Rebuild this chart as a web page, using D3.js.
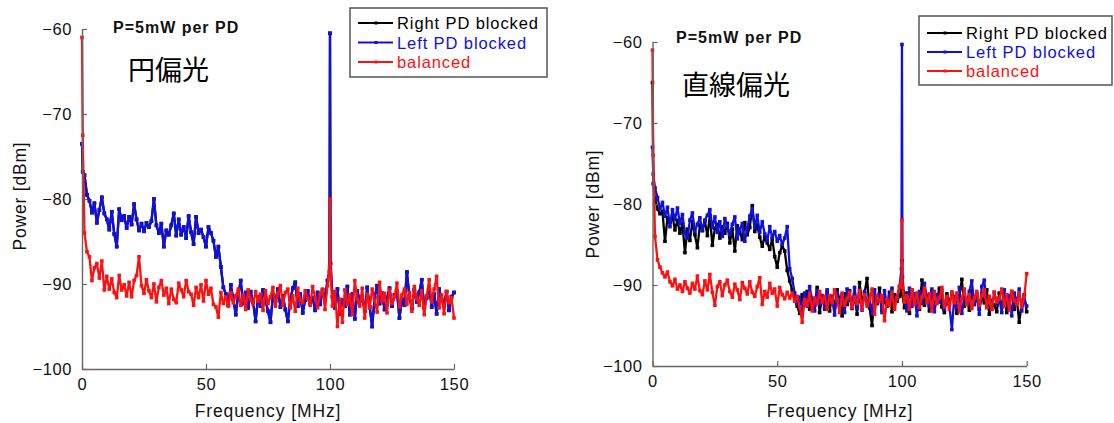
<!DOCTYPE html>
<html>
<head>
<meta charset="utf-8">
<script src="https://cdn.jsdelivr.net/npm/d3@7"></script>
<style>
  body { margin: 0; background: #fff; }
  text { font-family: "Liberation Sans", Arial, sans-serif; }
</style>
</head>
<body>
<div id="chart"></div>
<script>
// frequency grid [MHz]: fine points at DC and around the 100 MHz line
const freqMHz = [0, 0.3, ...d3.range(1, 100), 99.8, 100, 100.2, ...d3.range(101, 151)];

const seriesNames = ["Right PD blocked", "Left PD blocked", "balanced"];
const yTicks = [-100, -90, -80, -70, -60];
const xTicks = [0, 50, 100, 150];

// ---- circular polarisation (left panel), values in dBm ----
const circLeftBlocked = [
  -73.5, -76.8,
  -77.2, -79.5, -80.2, -81.6, -80.5, -82.8, -81.3, -79.8, -81.7, -82.4,
  -83.6, -81.5, -84.1, -85.6, -81.2, -82.5, -82.0, -83.4, -82.1, -83.0,
  -80.6, -82.4, -83.7, -82.9, -83.8, -82.8, -83.3, -82.6, -80.0, -83.1,
  -84.0, -82.9, -85.6, -83.7, -84.2, -83.1, -81.7, -84.3, -82.4, -84.2,
  -83.3, -84.6, -82.0, -83.9, -85.3, -82.1, -84.0, -83.6, -84.5, -85.6,
  -83.3, -84.0, -84.9, -86.8, -85.6, -88.0, -90.4, -91.2, -92.5, -90.1,
  -91.8, -93.6, -91.2, -89.6, -92.3, -91.0, -92.8, -90.9, -92.1, -94.4,
  -91.5, -92.6, -90.7, -91.9, -93.2, -94.5, -91.3, -92.0, -90.6, -92.7,
  -91.4, -93.0, -94.4, -91.8, -90.5, -89.8, -92.6, -91.2, -93.4, -91.9,
  -90.8, -92.3, -91.6, -93.1, -91.0, -92.4, -90.7, -91.8, -89.6,
  -88.5, -60.5, -87.6,
  -91.5, -92.8, -90.6, -93.5, -91.9, -92.6, -90.3, -93.6, -91.2, -94.1,
  -90.8, -92.0, -91.5, -93.2, -90.4, -92.7, -95.0, -91.6, -90.2, -92.3,
  -91.1, -93.0, -91.7, -90.5, -92.6, -91.3, -90.9, -94.0, -91.8, -92.5,
  -88.6, -91.4, -92.9, -90.7, -92.1, -91.0, -89.5, -92.8, -91.6, -90.4,
  -92.7, -91.2, -93.5, -90.6, -91.8, -92.4, -90.9, -93.1, -91.5, -91.0
];
// the black trace is completely covered by the blue one in this panel
const circRightBlocked = circLeftBlocked;
const circBalanced = [
  -61.0, -72.5,
  -84.0, -86.2, -86.8, -89.6, -88.1, -87.6, -89.3, -87.3, -90.7, -89.1,
  -90.6, -89.4, -91.0, -91.6, -89.0, -90.7, -90.1, -91.4, -89.8, -91.5,
  -89.6, -89.0, -86.8, -90.2, -91.1, -89.5, -90.8, -91.6, -90.0, -92.1,
  -90.4, -89.6, -91.3, -90.5, -92.3, -90.6, -91.8, -92.2, -89.9, -90.7,
  -91.5, -89.6, -90.9, -91.2, -92.5, -90.4, -91.6, -90.1, -92.0, -89.6,
  -91.2, -90.5, -92.4, -92.7, -93.9, -91.0, -92.3, -91.5, -92.6, -91.0,
  -92.2, -91.4, -90.6, -92.5, -91.3, -93.0, -90.7, -91.8, -92.4, -90.9,
  -92.0, -91.2, -93.1, -90.8, -92.3, -91.5, -90.4, -92.6, -91.1, -90.2,
  -92.5, -91.0, -90.6, -92.8, -91.4, -93.2, -90.5, -91.9, -92.2, -90.8,
  -91.7, -92.5, -90.3, -91.6, -92.8, -91.2, -90.6, -93.0, -90.2,
  -88.0, -80.0, -88.5,
  -92.6, -90.9, -95.0, -91.8, -94.5, -90.7, -92.4, -91.3, -93.6, -89.6,
  -91.8, -92.6, -90.5, -94.0, -91.2, -92.8, -90.6, -91.9, -93.3, -89.8,
  -92.0, -91.1, -93.4, -90.7, -92.3, -91.5, -89.9, -92.7, -91.3, -90.6,
  -92.4, -91.0, -93.2, -90.3, -91.7, -92.5, -90.8, -93.6, -91.4, -89.5,
  -92.1, -90.6, -89.1, -92.8, -91.3, -93.5, -90.9, -92.2, -91.6, -94.0
];

// ---- linear polarisation (right panel) ----
const linRightBlocked = [
  -65.0, -77.5,
  -79.4, -80.6, -81.2, -80.9, -84.6, -81.7, -82.3, -81.5, -83.2, -82.0,
  -83.6, -82.4, -86.0, -83.1, -84.5, -82.2, -83.8, -85.4, -82.6, -83.3,
  -82.1, -83.9, -81.4, -85.1, -83.0, -82.5, -84.2, -82.8, -83.6, -82.4,
  -84.8, -83.1, -85.8, -82.7, -83.5, -84.4, -82.3, -83.8, -82.9, -80.2,
  -83.4, -82.6, -84.1, -85.2, -84.0, -84.8, -85.6, -84.3, -86.5, -87.8,
  -86.0, -85.2, -85.8, -88.2, -89.5, -90.6, -91.8, -92.6, -93.5, -91.2,
  -92.4, -90.8, -93.0, -91.7, -92.5, -90.3, -93.4, -91.6, -92.1, -90.9,
  -93.2, -91.4, -92.7, -90.6, -91.9, -93.8, -91.1, -92.4, -90.7, -92.9,
  -91.3, -93.6, -89.7, -92.2, -91.0, -89.2, -92.8, -95.0, -91.5, -92.3,
  -90.4, -93.1, -91.8, -92.6, -90.9, -93.3, -91.2, -92.0, -91.4,
  -90.5, -87.0, -91.2,
  -92.8, -91.0, -93.5, -90.6, -92.2, -91.7, -93.0, -89.4, -92.5, -91.3,
  -93.2, -90.8, -92.6, -91.9, -90.4, -92.7, -93.4, -91.1, -92.3, -90.9,
  -92.0, -93.5, -91.4, -89.3, -92.6, -91.8, -93.1, -90.7, -92.4, -91.5,
  -93.0, -91.3, -92.2, -90.6, -93.6, -91.9, -92.5, -93.3, -91.0, -92.7,
  -91.6, -93.4, -92.1, -90.8, -93.0, -91.7, -94.6, -92.3, -91.2, -93.3
];
const linLeftBlocked = [
  -73.0, -76.3,
  -78.0, -79.2, -80.6, -79.8, -81.5, -80.4, -82.8, -80.7, -81.9, -80.5,
  -82.4, -81.3, -83.6, -84.2, -82.0, -81.1, -83.4, -82.5, -81.7, -83.2,
  -82.0, -81.4, -80.7, -82.9, -81.6, -83.5, -82.2, -84.0, -81.8, -82.7,
  -83.8, -82.5, -81.6, -84.3, -83.1, -82.4, -84.6, -83.0, -81.5, -80.6,
  -82.9, -81.4, -83.5, -82.2, -83.7, -84.5, -82.8, -84.1, -83.4, -84.6,
  -83.9, -85.0, -84.2, -82.8, -88.0, -89.2, -91.0, -92.3, -91.5, -93.4,
  -91.0, -92.6, -90.2, -91.8, -93.2, -90.7, -92.4, -91.3, -93.0, -90.6,
  -92.2, -91.5, -93.7, -90.9, -92.0, -91.2, -93.4, -90.5, -91.8, -92.6,
  -90.3, -92.9, -91.4, -93.1, -90.8, -92.3, -91.6, -93.5, -90.6, -92.1,
  -91.2, -93.4, -90.7, -92.5, -91.3, -90.4, -92.8, -91.5, -90.2,
  -88.0, -60.3, -89.0,
  -91.7, -93.2, -90.4, -92.6, -91.1, -93.8, -90.8, -92.3, -89.8, -91.6,
  -92.7, -90.5, -93.3, -91.2, -92.1, -90.7, -93.0, -91.8, -92.5, -95.5,
  -91.4, -92.8, -90.3, -93.5, -91.6, -92.2, -90.8, -89.5, -92.4, -91.1,
  -93.6, -90.2, -89.4, -92.7, -91.5, -93.0, -90.9, -92.3, -91.6, -93.4,
  -90.6, -92.5, -91.3, -93.8, -91.0, -92.2, -90.5, -93.2, -91.8, -92.6
];
const linBalanced = [
  -61.0, -74.0,
  -84.0, -86.9, -87.8, -88.5, -89.0, -88.4, -89.6, -90.1, -89.3, -90.5,
  -90.0, -90.8, -89.6, -90.4, -91.0, -89.8, -90.5, -88.9, -90.7, -91.2,
  -89.5, -90.6, -88.7, -90.9, -92.5, -90.2, -89.6, -91.3, -90.0, -89.4,
  -90.8, -91.5, -89.9, -90.6, -91.8, -89.7, -90.4, -91.1, -89.6, -90.9,
  -91.4, -90.2, -89.1, -92.4, -90.8, -91.5, -89.8, -91.0, -90.5, -92.6,
  -90.3, -91.2, -91.7, -90.9, -91.6, -91.0, -92.0, -91.4, -92.7, -94.6,
  -91.8, -92.5, -91.0, -93.2, -91.6, -92.3, -90.8, -92.1, -91.4, -93.0,
  -91.3, -92.2, -90.6, -91.8, -93.4, -91.0, -92.5, -91.7, -90.9, -92.8,
  -91.5, -92.3, -90.7, -93.0, -91.2, -92.6, -91.8, -90.5, -93.6, -91.4,
  -92.0, -91.3, -94.4, -91.8, -92.5, -90.9, -93.0, -91.6, -90.2,
  -89.5, -82.0, -90.3,
  -92.1, -91.3, -93.0, -90.6, -92.4, -91.0, -92.8, -91.5, -90.4, -92.2,
  -91.1, -93.2, -90.8, -92.3, -91.6, -90.3, -92.7, -91.4, -93.0, -90.9,
  -92.2, -91.0, -93.3, -91.7, -90.5, -92.4, -91.2, -92.9, -91.6, -90.8,
  -92.5, -91.3, -90.6, -92.8, -91.4, -93.0, -90.9, -92.1, -91.7, -90.5,
  -92.6, -91.2, -93.1, -90.8, -91.9, -92.4, -91.0, -92.7, -91.5, -88.6
];

const colors = ["#000000", "#1010dd", "#ff1010"];

const svg = d3.select('#chart').append('svg')
  .attr('width', 1114)
  .attr('height', 423)
  .style('background', '#fff');

const panels = [
  { x0: 82, x1: 454, yTop: 29, yBot: 369, note: "円偏光", noteX: 128, noteY: 80,
    titleX: 113, titleY: 33, legX: 350, legY: 8, legW: 197, legH: 69, legRow0: 23, legRowStep: 19.5,
    ylabX: 20, ylabY: 196, xlabX: 268, xlabY: 417,
    series: [circRightBlocked, circLeftBlocked, circBalanced] },
  { x0: 652.5, x1: 1026.7, yTop: 42, yBot: 366, note: "直線偏光", noteX: 682, noteY: 95,
    titleX: 676, titleY: 43, legX: 919, legY: 16, legW: 193, legH: 69, legRow0: 33, legRowStep: 19,
    ylabX: 593, ylabY: 204, xlabX: 840, xlabY: 417,
    series: [linRightBlocked, linLeftBlocked, linBalanced] }
];

panels.forEach(p => {
  const x = d3.scaleLinear().domain([0, 150]).range([p.x0, p.x1]);
  const y = d3.scaleLinear().domain([-100, -60]).range([p.yBot, p.yTop]);
  const g = svg.append('g');

  // traces: black, blue, then red on top
  p.series.forEach((vals, si) => {
    const pts = freqMHz.map((f, i) => [f, vals[i]]).filter(d => d[1] !== undefined);
    const line = d3.line().x(d => x(d[0])).y(d => y(d[1]));
    g.append('path')
      .datum(pts)
      .attr('d', line)
      .attr('fill', 'none')
      .attr('stroke', colors[si])
      .attr('stroke-width', 2.3)
      .attr('stroke-linejoin', 'round');
    g.append('g').selectAll('rect')
      .data(pts)
      .enter().append('rect')
      .attr('x', d => x(d[0]) - 1.8)
      .attr('y', d => y(d[1]) - 1.8)
      .attr('width', 3.6)
      .attr('height', 3.6)
      .attr('fill', colors[si]);
  });

  // axes with inward ticks
  const yAxis = d3.axisLeft(y).tickValues(yTicks).tickSizeInner(-5).tickSizeOuter(0).tickPadding(10)
    .tickFormat(d => d3.format('')(d).replace('-', '\u2212'));
  const xAxis = d3.axisBottom(x).tickValues(xTicks).tickSizeInner(-5).tickSizeOuter(0).tickPadding(9);

  const ya = g.append('g').attr('transform', `translate(${p.x0},0)`).call(yAxis);
  const xa = g.append('g').attr('transform', `translate(0,${p.yBot})`).call(xAxis);
  [ya, xa].forEach(a => {
    a.select('.domain').attr('stroke', '#666').attr('stroke-width', 1.4);
    a.selectAll('.tick line').attr('stroke', '#666').attr('stroke-width', 1.2);
    a.selectAll('.tick text')
      .attr('fill', '#111')
      .style('font-size', '16.5px')
      .style('letter-spacing', '0.6px')
      .style('font-family', '"Liberation Sans", Arial, sans-serif');
  });

  g.append('text')
    .attr('x', p.xlabX).attr('y', p.xlabY)
    .attr('text-anchor', 'middle')
    .style('font-size', '17.5px').style('letter-spacing', '0.9px')
    .attr('fill', '#111')
    .text('Frequency [MHz]');

  g.append('text')
    .attr('transform', `translate(${p.ylabX + 6},${p.ylabY}) rotate(-90)`)
    .attr('text-anchor', 'middle')
    .style('font-size', '17.5px').style('letter-spacing', '0.8px')
    .attr('fill', '#111')
    .text('Power [dBm]');

  g.append('text')
    .attr('x', p.titleX).attr('y', p.titleY)
    .style('font-size', '16px').style('font-weight', 'bold').style('letter-spacing', '1px')
    .attr('fill', '#111')
    .text('P=5mW per PD');

  g.append('text')
    .attr('x', p.noteX).attr('y', p.noteY)
    .style('font-family', '"Noto Sans CJK JP", sans-serif')
    .style('font-size', '27px')
    .attr('fill', '#000')
    .text(p.note);

  // legend
  const leg = g.append('g');
  leg.append('rect')
    .attr('x', p.legX).attr('y', p.legY)
    .attr('width', p.legW).attr('height', p.legH)
    .attr('fill', '#fff').attr('stroke', '#555').attr('stroke-width', 1.5);
  seriesNames.forEach((name, i) => {
    const ry = p.legRow0 + i * p.legRowStep;
    leg.append('line')
      .attr('x1', p.legX + 8).attr('x2', p.legX + 43)
      .attr('y1', ry).attr('y2', ry)
      .attr('stroke', colors[i]).attr('stroke-width', 2);
    leg.append('rect')
      .attr('x', p.legX + 24.5).attr('y', ry - 1.5)
      .attr('width', 3).attr('height', 3)
      .attr('fill', colors[i]);
    leg.append('text')
      .attr('x', p.legX + 47).attr('y', ry + 6)
      .style('font-size', '16.5px').style('letter-spacing', '0.9px')
      .attr('fill', colors[i])
      .text(name);
  });
});
</script>
</body>
</html>
